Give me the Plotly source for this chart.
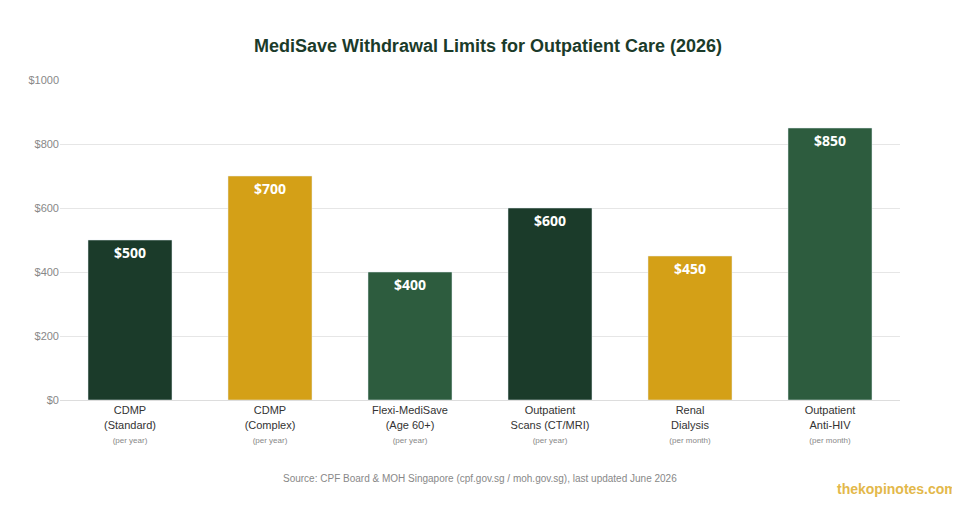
import plotly.graph_objects as go

categories = ["CDMP<br>(Standard)", "CDMP<br>(Complex)", "Flexi-MediSave<br>(Age 60+)",
              "Outpatient<br>Scans (CT/MRI)", "Renal<br>Dialysis", "Outpatient<br>Anti-HIV"]
periods = ["(per year)", "(per year)", "(per year)", "(per year)", "(per month)", "(per month)"]
values = [500, 700, 400, 600, 450, 850]
colors = ["#1b3b2a", "#d4a017", "#2d5c3e", "#1b3b2a", "#d4a017", "#2d5c3e"]
tick_vals = [0, 200, 400, 600, 800, 1000]

ticktext = [f"{c}<br><span style='font-size:8px;color:#888'>{p}</span>" for c, p in zip(categories, periods)]

fig = go.Figure(go.Bar(
    x=list(range(len(values))), y=values, marker_color=colors,
    text=[f"${v}" for v in values], textposition="inside", insidetextanchor="end",
    textfont=dict(color="white", size=14, family="Open Sans"),
    texttemplate="<b>%{text}</b>", width=0.6, cliponaxis=False,
))
fig.update_layout(
    width=960, height=520, plot_bgcolor="white", paper_bgcolor="white",
    margin=dict(l=52, r=68, t=72, b=128),
    font=dict(family="Liberation Sans, Arial", color="#333"),
    title=dict(text="<b>MediSave Withdrawal Limits for Outpatient Care (2026)</b>",
               x=0.5, y=0.94, xanchor="center", font=dict(size=18, color="#1b3b2a")),
    showlegend=False,
    xaxis=dict(tickvals=list(range(len(values))), ticktext=ticktext,
               tickfont=dict(size=11, color="#333"), showgrid=False, range=[-0.5, 5.5],
               showline=True, linecolor="#ddd"),
    yaxis=dict(range=[0, 1000], tickvals=tick_vals, ticktext=[f"${v}" for v in tick_vals],
               tickfont=dict(size=11, color="#888"), gridcolor="#e6e6e6", zeroline=False),
    annotations=[
        dict(text="Source: CPF Board & MOH Singapore (cpf.gov.sg / moh.gov.sg), last updated June 2026",
             xref="paper", yref="paper", x=0.5, y=-0.27, showarrow=False,
             font=dict(size=10, color="#888")),
        dict(text="<b>thekopinotes.com</b>", xref="paper", yref="paper", x=1.07, y=-0.31,
             xanchor="right", showarrow=False, font=dict(size=14, color="#e3b84a")),
    ],
)
fig.write_html("out.html")
